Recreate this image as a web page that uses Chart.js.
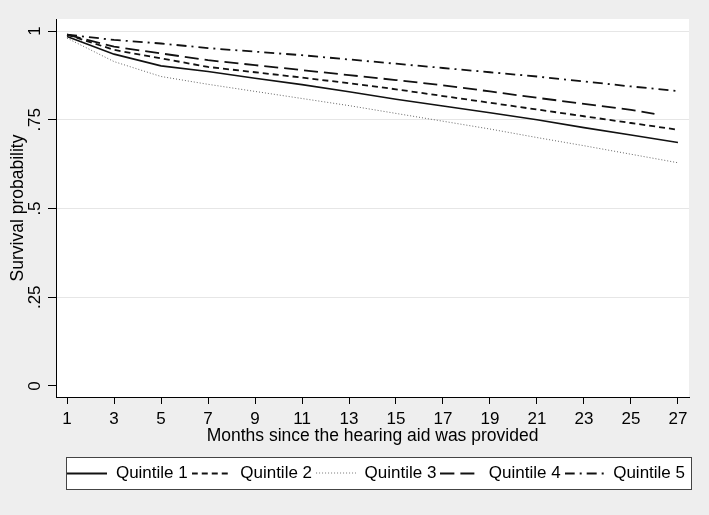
<!DOCTYPE html>
<html>
<head>
<meta charset="utf-8">
<script src="https://cdn.jsdelivr.net/npm/chart.js@4.4.1/dist/chart.umd.min.js"></script>
<style>
  html, body { margin: 0; padding: 0; background: #eeeeee; }
  #chart { display: block; }
</style>
</head>
<body>
<canvas id="chart" width="709" height="515"></canvas>
<script>
// months on the x axis (values read at every odd month)
const months = [1, 3, 5, 7, 9, 11, 13, 15, 17, 19, 21, 23, 25, 27];
const monthsQ4 = [1, 3, 5, 7, 9, 11, 13, 15, 17, 19, 21, 23, 25, 26];

const quintile1 = [0.985, 0.935, 0.902, 0.886, 0.867, 0.849, 0.829, 0.808, 0.789, 0.770, 0.750, 0.728, 0.707, 0.686];
const quintile2 = [0.990, 0.947, 0.923, 0.899, 0.884, 0.869, 0.853, 0.836, 0.817, 0.798, 0.779, 0.760, 0.741, 0.722];
const quintile3 = [0.980, 0.914, 0.872, 0.850, 0.830, 0.810, 0.790, 0.768, 0.746, 0.724, 0.700, 0.677, 0.653, 0.629];
const quintile4 = [0.990, 0.956, 0.937, 0.918, 0.904, 0.890, 0.876, 0.862, 0.847, 0.830, 0.812, 0.795, 0.778, 0.767];
const quintile5 = [0.990, 0.975, 0.965, 0.952, 0.942, 0.932, 0.920, 0.908, 0.896, 0.884, 0.872, 0.858, 0.844, 0.831];

const seriesNames = ['Quintile 1', 'Quintile 2', 'Quintile 3', 'Quintile 4', 'Quintile 5'];
const xTicks = [1, 3, 5, 7, 9, 11, 13, 15, 17, 19, 21, 23, 25, 27];
const yTicks = [0, 0.25, 0.5, 0.75, 1];
const yTickLabels = ['0', '.25', '.5', '.75', '1'];

const FONT = 'Liberation Sans, Arial, Helvetica, sans-serif';
const SWATCH_W = 40;

function points(xs, ys) {
    return xs.map((x, i) => ({ x: x, y: ys[i] }));
}

// small canvas used as the legend sample, so the dash pattern shows
function swatch(color, width, dash) {
    const c = document.createElement('canvas');
    c.width = SWATCH_W;
    c.height = 4;
    const g = c.getContext('2d');
    g.strokeStyle = color;
    g.lineWidth = width;
    g.setLineDash(dash);
    g.beginPath();
    g.moveTo(0, width % 2 ? 1.5 : 2);
    g.lineTo(SWATCH_W, width % 2 ? 1.5 : 2);
    g.stroke();
    return c;
}

// grey page, white plot region and the boxed legend
const backdrop = {
    id: 'backdrop',
    beforeDraw(chart) {
        const { ctx, chartArea: a } = chart;
        ctx.save();
        ctx.fillStyle = '#eeeeee';
        ctx.fillRect(0, 0, chart.width, chart.height);
        ctx.fillStyle = '#ffffff';
        ctx.fillRect(a.left, a.top, a.right - a.left, a.bottom - a.top);

        const hb = chart.legend.legendHitBoxes;
        if (hb && hb.length) {
            const last = hb[hb.length - 1];
            const x0 = Math.round(hb[0].left - 1);
            const x1 = Math.round(last.left + last.width + 7);
            const y0 = Math.round(hb[0].top + hb[0].height / 2 - 16.5);
            ctx.fillStyle = '#ffffff';
            ctx.fillRect(x0, y0, x1 - x0, 33);
            ctx.strokeStyle = '#444444';
            ctx.lineWidth = 1;
            ctx.strokeRect(x0 + 0.5, y0 + 0.5, x1 - x0 - 1, 32);
        }
        ctx.restore();
    }
};

const base = { fill: false, tension: 0, pointRadius: 0, borderColor: '#111111' };

new Chart(document.getElementById('chart').getContext('2d'), {
    type: 'line',
    data: {
        datasets: [
            { ...base, label: seriesNames[0], data: points(months, quintile1), borderWidth: 1.6, borderDash: [],
              pointStyle: swatch('#111111', 2, []) },
            { ...base, label: seriesNames[1], data: points(months, quintile2), borderWidth: 1.8, borderDash: [6, 4],
              pointStyle: swatch('#111111', 2, [6, 4]) },
            { ...base, label: seriesNames[2], data: points(months, quintile3), borderWidth: 1, borderDash: [1, 2], borderColor: '#666666',
              pointStyle: swatch('#777777', 1, [1, 2]) },
            { ...base, label: seriesNames[3], data: points(monthsQ4, quintile4), borderWidth: 1.8, borderDash: [14, 6],
              pointStyle: swatch('#111111', 2, [14, 6]) },
            { ...base, label: seriesNames[4], data: points(months, quintile5), borderWidth: 1.8, borderDash: [10, 5, 2, 5],
              pointStyle: swatch('#111111', 2, [10, 5, 2, 5]) }
        ]
    },
    options: {
        responsive: false,
        animation: false,
        devicePixelRatio: 1,
        layout: { padding: { left: 0, right: 20, top: 19, bottom: 23 } },
        plugins: {
            tooltip: { enabled: false },
            legend: {
                position: 'bottom',
                align: 'end',
                fullSize: false,
                labels: {
                    usePointStyle: true,
                    pointStyleWidth: SWATCH_W,
                    padding: 4,
                    color: '#000000',
                    font: { family: FONT, size: 17 }
                }
            }
        },
        scales: {
            x: {
                type: 'linear',
                min: 0.53,
                max: 27.47,
                afterBuildTicks(scale) { scale.ticks = xTicks.map(v => ({ value: v })); },
                afterFit(scale) { scale.height = 64; },
                border: { color: '#000000', width: 1 },
                grid: { drawOnChartArea: false, tickLength: 7, tickColor: '#000000' },
                ticks: { color: '#000000', padding: 5, maxRotation: 0, autoSkip: false, font: { family: FONT, size: 17 } },
                title: {
                    display: true,
                    text: 'Months since the hearing aid was provided',
                    color: '#000000',
                    padding: { top: 0, bottom: 14 },
                    font: { family: FONT, size: 17.5 }
                }
            },
            y: {
                min: -0.031,
                max: 1.034,
                afterBuildTicks(scale) { scale.ticks = yTicks.map(v => ({ value: v })); },
                afterFit(scale) { scale.width = 56; },
                border: { color: '#000000', width: 1 },
                grid: {
                    color: ctx => (ctx.tick && ctx.tick.value === 0 ? 'rgba(0,0,0,0)' : '#e6e6e6'),
                    tickLength: 8,
                    tickColor: '#000000'
                },
                ticks: {
                    color: '#000000',
                    minRotation: 90,
                    maxRotation: 90,
                    crossAlign: 'center',
                    padding: 1,
                    autoSkip: false,
                    font: { family: FONT, size: 17 },
                    callback: (v) => yTickLabels[yTicks.indexOf(v)]
                },
                title: {
                    display: true,
                    text: 'Survival probability',
                    color: '#000000',
                    padding: { top: 8, bottom: 0 },
                    font: { family: FONT, size: 17.5 }
                }
            }
        }
    },
    plugins: [backdrop]
});
</script>
</body>
</html>
